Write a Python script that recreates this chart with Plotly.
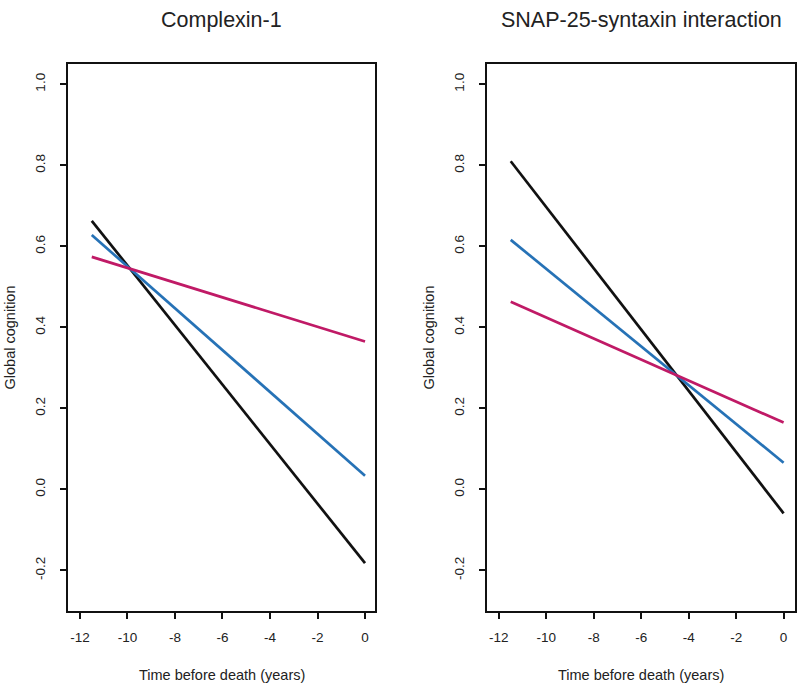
import plotly.graph_objects as go

# time before death (years), start and end of each fitted trajectory
years = [-11.5, 0]

# Complexin-1 panel
complexin_black = [0.663, -0.182]
complexin_blue = [0.628, 0.034]
complexin_magenta = [0.574, 0.365]

# SNAP-25-syntaxin interaction panel
snap_black = [0.81, -0.059]
snap_blue = [0.616, 0.066]
snap_magenta = [0.463, 0.165]

x_ticks = [-12, -10, -8, -6, -4, -2, 0]
x_tick_text = ["-12", "-10", "-8", "-6", "-4", "-2", "0"]
y_ticks = [-0.2, 0.0, 0.2, 0.4, 0.6, 0.8, 1.0]
y_tick_text = ["-0.2", "0.0", "0.2", "0.4", "0.6", "0.8", "1.0"]

colors = {"black": "#111111", "blue": "#2672b6", "magenta": "#c01a66"}
FONT = "Liberation Sans, Arial, Helvetica, sans-serif"
W, H = 800, 688

fig = go.Figure()

panels = [
    ("x", "y", [complexin_black, complexin_blue, complexin_magenta]),
    ("x2", "y2", [snap_black, snap_blue, snap_magenta]),
]
for xa, ya, series in panels:
    for vals, col in zip(series, ["black", "blue", "magenta"]):
        fig.add_trace(go.Scatter(
            x=years, y=vals, mode="lines", xaxis=xa, yaxis=ya,
            line=dict(color=colors[col], width=2.7),
            showlegend=False, hoverinfo="skip"
        ))

# panel boxes in pixels: (left, right, top, bottom) and x ranges
boxes = [(68, 375, 64, 611), (487, 795, 64, 611)]
x_ranges = [[-12.5, 0.42], [-12.5, 0.48]]

axis_common = dict(
    showline=True, linecolor="#111111", linewidth=1.5, mirror=True,
    ticks="outside", ticklen=6, tickwidth=1.5, tickcolor="#111111",
    showgrid=False, zeroline=False,
    tickfont=dict(family=FONT, size=13.5, color="#222222"),
)

layout_axes = {}
for i, ((l, r, t, b), xr) in enumerate(zip(boxes, x_ranges)):
    sfx = "" if i == 0 else str(i + 1)
    layout_axes["xaxis" + sfx] = dict(
        axis_common, domain=[l / W, r / W], range=xr,
        tickvals=x_ticks, ticktext=x_tick_text, anchor="y" + sfx,
        ticklabelstandoff=7,
    )
    layout_axes["yaxis" + sfx] = dict(
        axis_common, domain=[1 - b / H, 1 - t / H], range=[-0.3, 1.05],
        tickvals=y_ticks, ticktext=y_tick_text, tickangle=-90,
        anchor="x" + sfx, ticklabelstandoff=10,
    )

annotations = []
titles = ["Complexin-1", "SNAP-25-syntaxin interaction"]
for (l, r, t, b), title in zip(boxes, titles):
    cx = (l + r) / 2 / W
    annotations.append(dict(
        text=title, x=cx, y=1 - 20 / H, xref="paper", yref="paper",
        showarrow=False, font=dict(family=FONT, size=21.5, color="#222222"),
        xanchor="center", yanchor="middle",
    ))
    annotations.append(dict(
        text="Time before death (years)", x=cx, y=1 - 675 / H,
        xref="paper", yref="paper", showarrow=False,
        font=dict(family=FONT, size=14.5, color="#222222"),
        xanchor="center", yanchor="middle",
    ))
    annotations.append(dict(
        text="Global cognition", x=(l - 58) / W, y=1 - (t + b) / 2 / H,
        xref="paper", yref="paper", showarrow=False, textangle=-90,
        font=dict(family=FONT, size=14.5, color="#222222"),
        xanchor="center", yanchor="middle",
    ))

fig.update_layout(
    width=W, height=H,
    margin=dict(l=0, r=0, t=0, b=0),
    paper_bgcolor="white", plot_bgcolor="white",
    annotations=annotations,
    **layout_axes,
)

# drop the page's default body margin so the figure sits at the window origin
fig.write_html("out.html", config={"displayModeBar": False},
               post_script="document.body.style.margin='0px';")
